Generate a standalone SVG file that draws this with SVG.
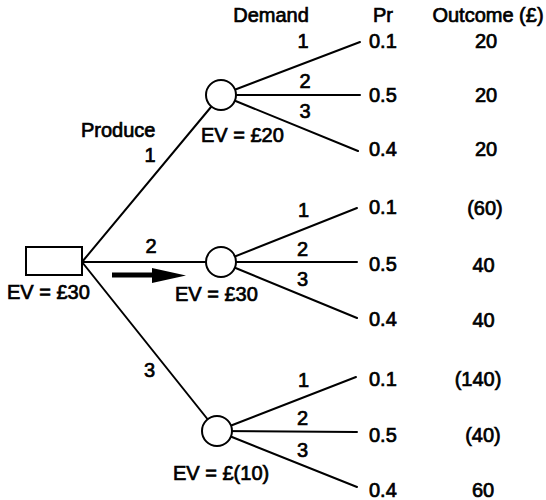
<svg xmlns="http://www.w3.org/2000/svg" width="546" height="500" viewBox="0 0 546 500">
<style>
text{font-family:"Liberation Sans",Arial,Helvetica,sans-serif;font-size:20px;fill:#000;stroke:#000;stroke-width:0.7px}
.m{text-anchor:middle}
.ln{stroke:#000;stroke-width:2;fill:none;stroke-linecap:round}
.node{fill:#fff;stroke:#000;stroke-width:2}
</style>
<rect width="546" height="500" fill="#fff"/>
<g id="headers">
<text class="m" x="271" y="22">Demand</text>
<text class="m" x="383" y="22">Pr</text>
<text class="m" x="488" y="22">Outcome (£)</text>
</g>
<g id="connectors">
<line class="ln" x1="82" y1="262" x2="221" y2="95"/>
<line class="ln" x1="82" y1="262" x2="221" y2="262"/>
<line class="ln" x1="82" y1="262" x2="217" y2="431"/>
<line class="ln" x1="221" y1="95" x2="360" y2="42"/>
<line class="ln" x1="221" y1="95" x2="360" y2="95"/>
<line class="ln" x1="221" y1="95" x2="358" y2="151"/>
<line class="ln" x1="221" y1="262" x2="357" y2="208"/>
<line class="ln" x1="221" y1="262" x2="357" y2="262"/>
<line class="ln" x1="221" y1="262" x2="357" y2="318"/>
<line class="ln" x1="217" y1="431" x2="356" y2="377"/>
<line class="ln" x1="217" y1="431" x2="357" y2="432"/>
<line class="ln" x1="217" y1="431" x2="357" y2="487"/>
<polygon points="112,272.5 152,272.5 152,268 186,275.5 152,283 152,277.5 112,277.5" fill="#000"/>
</g>
<g id="decision">
<rect x="26" y="247" width="56" height="28" class="node"/>
<text x="7" y="299">EV = £30</text>
<text x="81" y="137">Produce</text>
<text class="m" x="150" y="162">1</text>
<text class="m" x="151" y="253">2</text>
<text class="m" x="149.5" y="377">3</text>
</g>
<g id="chance1">
<circle cx="221" cy="95" r="15" class="node"/>
<text x="201" y="142">EV = £20</text>
<text class="m" x="303" y="48">1</text>
<text class="m" x="305" y="88">2</text>
<text class="m" x="305" y="118">3</text>
<text x="369" y="48">0.1</text>
<text x="369" y="102">0.5</text>
<text x="369" y="156">0.4</text>
<text class="m" x="486" y="48">20</text>
<text class="m" x="486" y="102">20</text>
<text class="m" x="486" y="156">20</text>
</g>
<g id="chance2">
<circle cx="221" cy="262" r="15" class="node"/>
<text x="175" y="301">EV = £30</text>
<text class="m" x="303.5" y="217">1</text>
<text class="m" x="302.5" y="256">2</text>
<text class="m" x="302.5" y="286">3</text>
<text x="369" y="214">0.1</text>
<text x="369" y="271">0.5</text>
<text x="369" y="326">0.4</text>
<text class="m" x="485" y="215">(60)</text>
<text class="m" x="483.5" y="272">40</text>
<text class="m" x="483.5" y="327">40</text>
</g>
<g id="chance3">
<circle cx="217" cy="431" r="15" class="node"/>
<text x="173" y="480">EV = £(10)</text>
<text class="m" x="303.5" y="387">1</text>
<text class="m" x="302.5" y="425">2</text>
<text class="m" x="302.5" y="457">3</text>
<text x="369" y="386">0.1</text>
<text x="369" y="442">0.5</text>
<text x="369" y="497">0.4</text>
<text class="m" x="478" y="386">(140)</text>
<text class="m" x="483" y="442">(40)</text>
<text class="m" x="483" y="497">60</text>
</g>
</svg>
